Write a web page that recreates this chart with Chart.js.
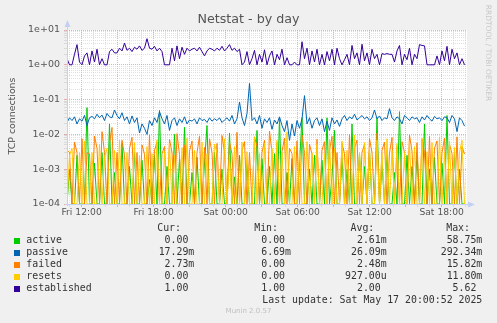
<!DOCTYPE html>
<html><head><meta charset="utf-8">
<script src="https://cdn.jsdelivr.net/npm/chart.js@4.4.1/dist/chart.umd.min.js"></script>
<style>
html,body{margin:0;padding:0;background:#f0f0f0;}
#wrap{position:relative;width:497px;height:323px;overflow:hidden;background:#f0f0f0;}
#c{position:absolute;left:0;top:0;}
.t{position:absolute;white-space:pre;font-family:"DejaVu Sans";}
.m{position:absolute;white-space:pre;font-family:"DejaVu Sans Mono";font-size:9.9px;line-height:12px;color:#333;}
.sq{position:absolute;width:6px;height:6px;}
</style></head><body>
<div id="wrap">
<canvas id="c" width="497" height="323"></canvas>
<div class="t" id="title" style="left:0;width:497px;text-align:center;top:11px;font-size:12.7px;line-height:15px;color:#555;">Netstat - by day</div>
<div class="t" id="ytitle" style="left:-38px;top:110px;width:100px;height:12px;text-align:center;font-size:9.4px;line-height:12px;color:#505050;transform:rotate(-90deg);transform-origin:50px 6px;">TCP connections</div>
<div class="t" id="rrd" style="left:438px;top:48px;width:100px;height:10px;text-align:center;font-size:7.5px;line-height:10px;color:#c8c8c8;transform:rotate(90deg);transform-origin:50px 5px;">RRDTOOL / TOBI OETIKER</div>
<div class="t" id="munin" style="left:0;width:497px;text-align:center;top:307px;font-size:7px;line-height:9px;color:#c0c0c0;">Munin 2.0.57</div>
<div id="legend"></div>
</div>
<script>
// ---- data ----
const seriesNames = ['active','passive','failed','resets','established'];
const startHour = 10.78;      // Fri 10:47, left edge of the graph
const stepMinutes = 12.5;
const xLabelHours = [12,18,24,30,36,42];
const xLabelTexts = ['Fri 12:00','Fri 18:00','Sat 00:00','Sat 06:00','Sat 12:00','Sat 18:00'];
const yTickLabels = ['1e-04','1e-03','1e-02','1e-01','1e+00','1e+01'];

const active = [
0,0.001,0,0,0.0025,0,0,0,0.0588,0,
0,0.0015,0,0,0.003,0,0,0.02,0,0.0008,
0,0,0.0055,0,0,0.0012,0,0.003,0,0,
0.0018,0,0,0.0005,0,0.0025,0,0.05,0,0,
0.0012,0,0,0.01,0,0.002,0,0.016,0,0,
0.0008,0,0.0022,0,0,0.0015,0.018,0,0,0.003,
0,0,0.001,0,0,0.011,0,0.0006,0,0.0025,
0,0,0.0015,0,0,0,0.013,0,0.002,0,
0,0.0012,0,0.0028,0,0.03,0,0,0.0008,0,
0.002,0,0,0.0015,0.03,0,0,0.001,0,0.0025,
0,0,0.0018,0,0.03,0,0.0006,0.013,0,0,
0.0022,0,0.001,0,0.02,0,0,0.0028,0,0.0012,
0,0.0035,0,0,0.03,0,0.0015,0,0.003,0,
0,0.0008,0,0.045,0,0,0.0025,0,0.0012,0,
0.003,0,0,0.02,0,0.001,0,0.0022,0,0,
0.0015,0,0.035,0,0,0.0028,0,0.001,0,0];

const passive = [
0.022,0.03,0.025,0.032,0.02,0.028,0.024,0.035,0.018,0.03,
0.033,0.028,0.038,0.03,0.036,0.025,0.04,0.032,0.03,0.05,
0.035,0.028,0.042,0.025,0.032,0.02,0.034,0.022,0.03,0.011,
0.02,0.015,0.01,0.025,0.018,0.03,0.022,0.045,0.028,0.02,
0.035,0.013,0.025,0.03,0.018,0.028,0.022,0.032,0.02,0.026,
0.024,0.028,0.02,0.03,0.025,0.027,0.022,0.03,0.024,0.028,
0.025,0.03,0.022,0.026,0.03,0.024,0.035,0.02,0.028,0.085,
0.03,0.018,0.04,0.292,0.025,0.03,0.02,0.035,0.015,0.028,
0.022,0.03,0.014,0.026,0.02,0.032,0.018,0.012,0.025,0.0067,
0.02,0.009,0.025,0.015,0.028,0.13,0.02,0.03,0.015,0.025,
0.03,0.018,0.028,0.012,0.024,0.013,0.03,0.02,0.026,0.017,
0.028,0.035,0.025,0.032,0.028,0.038,0.026,0.03,0.035,0.028,
0.032,0.025,0.03,0.05,0.028,0.034,0.025,0.03,0.028,0.055,
0.03,0.025,0.032,0.028,0.02,0.035,0.03,0.025,0.032,0.028,
0.03,0.022,0.032,0.026,0.035,0.028,0.024,0.033,0.028,0.03,
0.025,0.032,0.03,0.022,0.035,0.028,0.012,0.03,0.025,0.01729];

const failed = [
0.0035,0.003,0,0.006,0.003,0,0.0075,0,0.003,0.0028,
0,0.009,0.004,0,0.012,0.003,0,0.0055,0.0158,0,
0.003,0,0.0068,0.0025,0,0.004,0.0082,0,0.003,0,
0.005,0.0027,0,0.0095,0,0.0035,0.006,0,0.0028,0.0045,
0,0.0072,0.003,0,0.0105,0.0026,0,0.005,0,0.0033,
0.0065,0,0.003,0.0088,0,0.0042,0,0.0075,0.003,0,
0.0055,0,0.0093,0.003,0,0.006,0.0027,0,0.0115,0,
0.0035,0.0062,0,0.003,0,0.0085,0.0045,0,0.003,0.0068,
0,0.0125,0.003,0,0.0058,0,0.0032,0.0078,0,0.004,
0.0028,0,0.0065,0,0.0095,0.003,0,0.0052,0.0027,0,
0.0072,0,0.0035,0.0062,0,0.0035,0.0088,0,0.003,0,
0.0055,0.0028,0,0.0098,0,0.004,0.0068,0,0.003,0.0052,
0,0.0075,0.003,0,0.011,0,0.0035,0.006,0,0.0029,
0.0082,0,0.0045,0,0.0062,0.003,0,0.0095,0.0033,0,
0.0058,0,0.0072,0.003,0,0.0088,0,0.004,0.0065,0,
0.003,0.0078,0,0.0052,0.0028,0,0.0085,0,0.0045,0.00273];

const resets = [
0,0.0025,0.004,0,0,0.003,0,0.0065,0,0,
0.003,0,0,0.0052,0,0.0022,0.004,0,0,0.0035,
0,0.0068,0,0,0.003,0,0,0.0058,0,0.0025,
0,0,0.0045,0,0.0028,0,0.007,0,0,0.0032,
0,0.0055,0,0.0025,0,0,0.0042,0,0.0078,0,
0,0.0035,0,0,0.006,0,0.0028,0,0,0.0052,
0.003,0,0,0.0075,0,0.0025,0,0.0045,0,0,
0.006,0,0.0032,0,0,0.0085,0,0.0028,0,0.0055,
0,0,0.004,0,0.0068,0,0.003,0,0.0118,0,
0,0.0045,0,0.0035,0,0,0.0062,0,0.003,0,
0.0052,0,0,0.0028,0,0.0072,0,0.004,0,0,
0.0065,0,0.0035,0,0,0.0095,0,0.003,0,0.0058,
0,0.0042,0,0,0.0068,0,0.0028,0,0.0075,0,
0.0035,0,0.0055,0,0,0.003,0,0.0062,0,0.0045,
0,0,0.0078,0,0.0032,0,0.0058,0,0,0.0085,
0,0.003,0,0.0065,0,0.0042,0,0.003,0.0068,0];

const established = [
1.5,1,1,2,3.8,1.2,1,1.8,2.2,1,
2.5,1.2,2.8,1,1.5,1,1,2.4,2.8,2.2,
2.2,3,2.5,4.2,2.6,3,2.4,3.2,2.8,3.5,
2.6,3,5.62,3,2.8,3.4,2.5,3,2.4,1,
1,1,3,1.3,3.5,1.5,3.2,2,3,2.5,
2.8,3,2.5,3.2,2.4,1.8,2.5,3,2.8,2.5,
3,2.6,3.4,2.5,3,3.8,2.6,3,2.4,2.8,
1,1.2,2.4,1,1.5,2.6,1,2,1.2,2.7,
1,1.8,2.5,1,2,1.4,2.8,1,1.6,1,
1,1.2,1,1,4.6,1.5,3,1,2.5,1.2,
2.8,1,2,1,2.4,1.3,2.8,1,3,1.5,
1,1.4,2,1,3.6,1.5,2.2,1,3.9,1.3,
2.2,1,2.8,1.5,2,1,2.1,2,2.1,2,
2,1.2,2.5,3.6,1,2,1.4,3,1,2,
1.5,3.8,3.6,3.5,1,1,1,1,1.8,1,
2.5,1.3,3.4,1,2.8,1.5,2.2,1,1.5,1];

const curVals = ['0.00 ','17.29m','2.73m','0.00 ','1.00 '];
const minVals = ['0.00 ','6.69m','0.00 ','0.00 ','1.00 '];
const avgVals = ['2.61m','26.09m','2.48m','927.00u','2.00 '];
const maxVals = ['58.75m','292.34m','15.82m','11.80m','5.62 '];
const lastUpdate = 'Last update: Sat May 17 20:00:52 2025';

// ---- styles ----
const seriesColors = ['#00cc00','#0066b3','#ff8000','#ffcc00','#330099'];
const allSeries = [active, passive, failed, resets, established];

const hourOf = i => startHour + i * stepMinutes / 60;
const endHour = startHour + 400 / 12;

const datasets = allSeries.map((vals, k) => ({
  label: seriesNames[k],
  data: vals.map((v, i) => ({x: hourOf(i), y: v})),
  borderColor: seriesColors[k],
  borderWidth: 1,
  pointRadius: 0,
  tension: 0,
  fill: false,
  order: 5 - k
}));

const isDecade = v => { const e = Math.round(Math.log10(v)); return Math.abs(v / Math.pow(10, e) - 1) < 1e-6; };
const MAJOR = 'rgba(232,140,140,0.7)';
const MINOR = 'rgba(195,195,195,0.5)';

const bgPlugin = {
  id: 'bg',
  beforeDraw(chart) {
    const {ctx, chartArea: a} = chart;
    ctx.save();
    ctx.fillStyle = '#ffffff';
    ctx.fillRect(a.left, a.top, a.right - a.left, a.bottom - a.top);
    ctx.restore();
  }
};
const axisPlugin = {
  id: 'axes',
  afterDatasetsDraw(chart) {
    const {ctx, chartArea: a} = chart;
    ctx.save();
    ctx.strokeStyle = '#c5cff2';
    ctx.fillStyle = '#c5cff2';
    ctx.lineWidth = 1;
    ctx.beginPath();
    ctx.moveTo(a.left + 0.5, a.bottom + 2);
    ctx.lineTo(a.left + 0.5, a.top - 5);
    ctx.moveTo(a.left - 2, a.bottom + 0.5);
    ctx.lineTo(a.right + 2, a.bottom + 0.5);
    ctx.stroke();
    ctx.beginPath();
    ctx.moveTo(a.left - 2.5, a.top - 3);
    ctx.lineTo(a.left + 3.5, a.top - 3);
    ctx.lineTo(a.left + 0.5, a.top - 10);
    ctx.closePath();
    ctx.fill();
    ctx.beginPath();
    ctx.moveTo(a.right + 1, a.bottom - 2.5);
    ctx.lineTo(a.right + 1, a.bottom + 3.5);
    ctx.lineTo(a.right + 8, a.bottom + 0.5);
    ctx.closePath();
    ctx.fill();
    ctx.restore();
  }
};

new Chart(document.getElementById('c'), {
  type: 'line',
  data: {datasets},
  plugins: [bgPlugin, axisPlugin],
  options: {
    responsive: false,
    animation: false,
    devicePixelRatio: 1,
    parsing: false,
    normalized: true,
    layout: {padding: {top: 30, right: 30, bottom: 0, left: 0}},
    plugins: {legend: {display: false}, title: {display: false}, tooltip: {enabled: false}},
    scales: {
      x: {
        type: 'linear',
        min: startHour,
        max: endHour,
        bounds: 'data',
        afterFit: s => { s.height = 119; },
        afterBuildTicks: s => {
          const t = [];
          for (let h = Math.ceil(startHour); h <= endHour; h++) t.push({value: h});
          s.ticks = t;
        },
        grid: {
          color: c => (c.tick && c.tick.value % 3 === 0) ? MAJOR : MINOR,
          tickColor: c => (c.tick && c.tick.value % 3 === 0) ? MAJOR : MINOR,
          tickLength: 3,
          lineWidth: 1
        },
        border: {display: false, dash: [1, 1]},
        ticks: {
          autoSkip: false,
          maxRotation: 0,
          padding: 0,
          color: '#555',
          font: {family: 'DejaVu Sans', size: 9.2},
          callback: v => { const k = xLabelHours.indexOf(v); return k >= 0 ? xLabelTexts[k] : ''; }
        }
      },
      y: {
        type: 'logarithmic',
        min: 1e-4,
        max: 10,
        bounds: 'data',
        afterFit: s => { s.width = 67; },
        afterBuildTicks: s => {
          const t = [];
          for (let e = -4; e <= 0; e++) for (let m = 1; m <= 9; m++) t.push({value: m * Math.pow(10, e)});
          t.push({value: 10});
          s.ticks = t;
        },
        grid: {
          color: c => (c.tick && isDecade(c.tick.value)) ? MAJOR : MINOR,
          tickColor: c => (c.tick && isDecade(c.tick.value)) ? MAJOR : MINOR,
          tickLength: 3,
          lineWidth: 1
        },
        border: {display: false, dash: [1, 1]},
        ticks: {
          autoSkip: false,
          padding: 4,
          color: '#555',
          font: {family: 'DejaVu Sans', size: 9.5},
          callback: v => isDecade(v) ? yTickLabels[Math.round(Math.log10(v)) + 4] : ''
        }
      }
    }
  }
});

// ---- legend table (HTML text) ----
const lg = document.getElementById('legend');
function add(cls, text, style) {
  const d = document.createElement('div');
  d.className = cls;
  d.textContent = text;
  d.setAttribute('style', style);
  lg.appendChild(d);
}
const headerTop = 222;
add('m', 'Cur:', `right:${497-181}px;top:${headerTop}px;`);
add('m', 'Min:', `right:${497-278}px;top:${headerTop}px;`);
add('m', 'Avg:', `right:${497-374.3}px;top:${headerTop}px;`);
add('m', 'Max:', `right:${497-470}px;top:${headerTop}px;`);
seriesNames.forEach((n, k) => {
  const top = 234 + 12 * k;
  const sq = document.createElement('div');
  sq.className = 'sq';
  sq.style.left = '14px';
  sq.style.top = (top + 3.5) + 'px';
  sq.style.background = seriesColors[k];
  lg.appendChild(sq);
  add('m', n, `left:26.3px;top:${top}px;`);
  add('m', curVals[k], `right:${497-194.3}px;top:${top}px;`);
  add('m', minVals[k], `right:${497-291}px;top:${top}px;`);
  add('m', avgVals[k], `right:${497-386.7}px;top:${top}px;`);
  add('m', maxVals[k], `right:${497-482.3}px;top:${top}px;`);
});
add('m', lastUpdate, `right:${497-482.3}px;top:294px;`);
</script>
</body></html>
